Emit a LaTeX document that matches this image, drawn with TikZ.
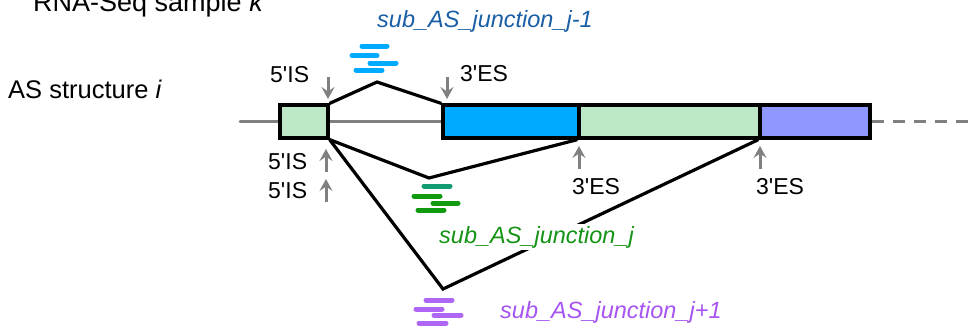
\documentclass[tikz,border=0pt]{standalone}
\usepackage{fontspec}
\setmainfont{Liberation Sans}[Ligatures=TeXOff]
\usetikzlibrary{arrows.meta}
\definecolor{lgreen}{HTML}{BDE8C8}
\definecolor{eblue}{HTML}{00AAFF}
\definecolor{epurple}{HTML}{8E96FF}
\definecolor{tblue}{HTML}{1A5FA6}
\definecolor{tgreen}{HTML}{169416}
\definecolor{bgreen}{HTML}{109A10}
\definecolor{bteal}{HTML}{129A72}
\definecolor{tpurple}{HTML}{A654F2}
\definecolor{bpurple}{HTML}{B066F5}
\definecolor{gline}{HTML}{808080}
\tikzset{
  exon/.style={draw=black, line width=3.2pt, inner sep=0pt, minimum height=33pt},
  junc/.style={draw=black, line width=3.2pt, line join=miter},
  backbone/.style={draw=gline, line width=3pt},
  site/.style={draw=gline, line width=3pt, -{Stealth[length=12pt,width=13pt,inset=4.5pt]}},
  lbl/.style={anchor=base west, inner sep=0pt, font=\fontsize{23}{26}\selectfont},
  jlbl/.style={anchor=base west, inner sep=2pt, fill=white, font=\fontsize{23.5}{26}\selectfont\itshape},
  readbar/.style={line width=5pt, line cap=round},
}
\begin{document}
\begin{tikzpicture}[x=1pt,y=-1pt]
\useasboundingbox (0,0) rectangle (972,325);
% titles
\node[lbl, font=\fontsize{27}{30}\selectfont] (title) at (33,11) {RNA-Seq sample \textit{k}};
\node[lbl, font=\fontsize{25.5}{28}\selectfont] (asi) at (8,98) {AS structure \textit{i}};
% exons
\node[exon, fill=lgreen, minimum width=48pt] (e1) at (304,121.5) {};
\node[exon, fill=eblue, minimum width=136pt] (e2) at (511,121.5) {};
\node[exon, fill=lgreen, minimum width=181pt] (e3) at (669.5,121.5) {};
\node[exon, fill=epurple, minimum width=110pt] (e4) at (815,121.5) {};
\coordinate (bstart) at (240,121.5);
\coordinate (bend) at (972,121.5);
% backbone
\draw[backbone, line cap=round] (bstart) -- (e1.west);
\draw[backbone] (e1.east) -- (e2.west);
\draw[backbone, dash pattern=on 12pt off 9pt] (e4.east) -- (bend);
% redraw exon borders on top
\node[exon, fill=lgreen, minimum width=48pt] at (304,121.5) {};
\node[exon, fill=eblue, minimum width=136pt] at (511,121.5) {};
\node[exon, fill=lgreen, minimum width=181pt] at (669.5,121.5) {};
\node[exon, fill=epurple, minimum width=110pt] at (815,121.5) {};
% junction vertices
\coordinate (v1) at (377,82);
\coordinate (v2) at (429,178);
\coordinate (v3) at (443,289);
\draw[junc] (e1.north east) -- (v1) -- (e2.north west);
\draw[junc] (e1.south east) -- (v2) -- (e3.south west);
\draw[junc] (e1.south east) -- (v3) -- (e4.south west);
% splice site arrows
\coordinate (a1s) at (328,77); \coordinate (a1e) at (328,99);
\coordinate (a2s) at (447,77); \coordinate (a2e) at (447,99);
\coordinate (a3s) at (326,172); \coordinate (a3e) at (326,149);
\coordinate (a4s) at (326,202); \coordinate (a4e) at (326,179);
\coordinate (a5s) at (579,169); \coordinate (a5e) at (579,146);
\coordinate (a6s) at (760,169); \coordinate (a6e) at (760,146);
\draw[site] (a1s) -- (a1e);
\draw[site] (a2s) -- (a2e);
\draw[site] (a3s) -- (a3e);
\draw[site] (a4s) -- (a4e);
\draw[site] (a5s) -- (a5e);
\draw[site] (a6s) -- (a6e);
% site labels
\node[lbl] (l1) at (270,82) {5'IS};
\node[lbl] (l2) at (460,81) {3'ES};
\node[lbl] (l3) at (268,169) {5'IS};
\node[lbl] (l4) at (268,198) {5'IS};
\node[lbl] (l5) at (572,194) {3'ES};
\node[lbl] (l6) at (756,194) {3'ES};
% reads j-1
\draw[readbar, eblue] (362,46) -- (387,46);
\draw[readbar, eblue] (352,55.5) -- (377,55.5);
\draw[readbar, eblue] (370,63) -- (396,63);
\draw[readbar, eblue] (356,70) -- (382,70);
% reads j
\draw[readbar, bteal] (424,186) -- (450,186);
\draw[readbar, bgreen] (414,196) -- (440,196);
\draw[readbar, bgreen] (433,203) -- (458,203);
\draw[readbar, bgreen] (418,210) -- (444,210);
% reads j+1
\draw[readbar, bpurple] (426,300) -- (452,300);
\draw[readbar, bpurple] (416,309) -- (442,309);
\draw[readbar, bpurple] (434,315) -- (461,315);
\draw[readbar, bpurple] (419,323) -- (446,323);
% junction labels
\node[jlbl, text=tblue] (j1) at (375,27) {sub\_AS\_junction\_j-1};
\node[jlbl, text=tgreen] (j2) at (437,243) {sub\_AS\_junction\_j};
\node[jlbl, text=tpurple] (j3) at (498,318) {sub\_AS\_junction\_j+1};
\end{tikzpicture}
\end{document}
